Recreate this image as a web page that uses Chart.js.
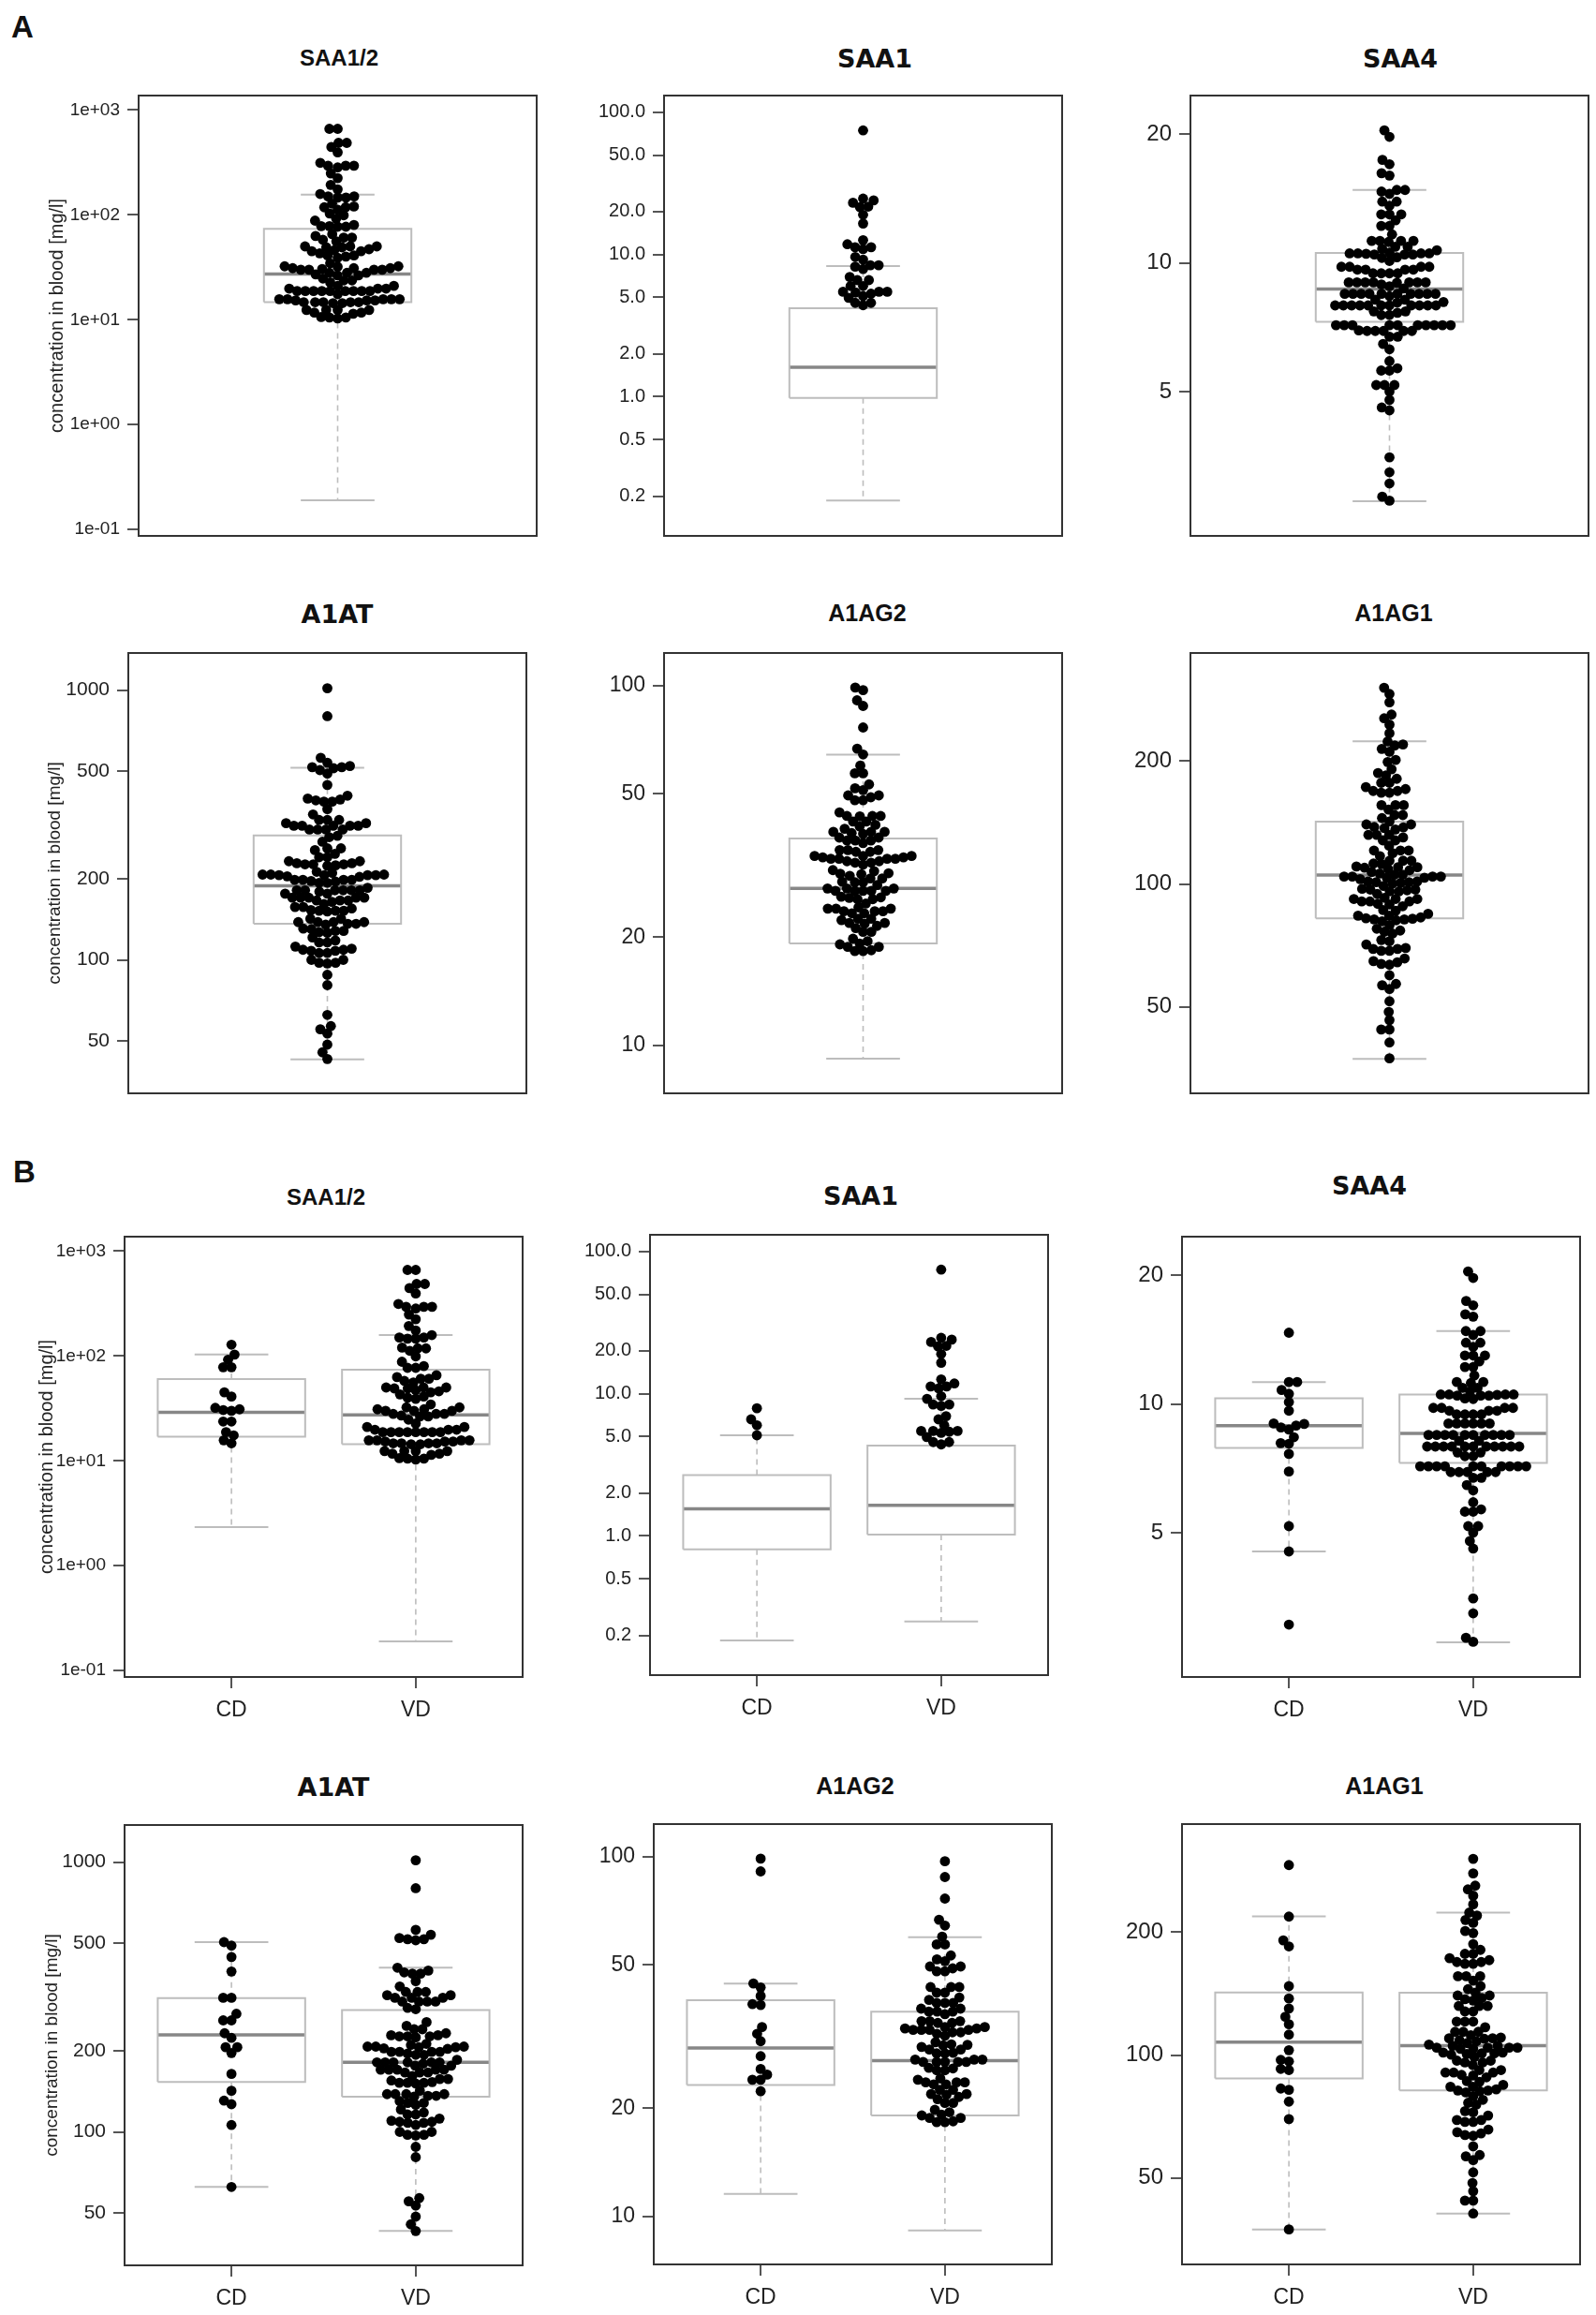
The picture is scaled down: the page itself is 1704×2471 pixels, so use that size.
<!DOCTYPE html>
<html>
<head>
<meta charset="utf-8">
<title>Acute phase proteins in blood</title>
<script src="https://cdn.jsdelivr.net/npm/chart.js@4.4.0/dist/chart.umd.min.js"></script>
<style>
  html, body { margin: 0; padding: 0; background: #fff; }
  body { position: relative; width: 1704px; height: 2471px; overflow: hidden;
         font-family: "Liberation Sans", Arial, sans-serif; color: #111; }
  .panel { position: absolute; }
  .letter { position: absolute; font-weight: bold; font-size: 33px; line-height: 33px; }
  .title { position: absolute; font-weight: bold; line-height: 1; white-space: nowrap;
           transform: translate(-50%, -50%); }
</style>
</head>
<body>
<div class="letter" style="left:12px; top:12px;">A</div>
<div class="letter" style="left:14px; top:1234px;">B</div>
<script>
// values, concentration in blood [mg/l]
const groupNames = ['CD', 'VD'];

// SAA1/2
const saa12CD = [128, 103, 92, 78, 78, 45, 41, 30.5, 30, 31, 32, 23.7, 23.7, 18.8, 17.5, 15.7, 14.7];
const saa12VD = [660, 660, 485, 485, 443, 394, 294, 294, 283, 294, 313, 248, 224, 193, 175,
  150, 150, 146, 146, 158, 118, 118, 112, 120, 99, 88, 80, 77, 77,
  62.8, 57.8, 55.9, 60.7, 60.7, 65.4,
  49, 45, 47, 46, 50, 49, 50, 50,
  41, 39, 40, 43,
  32.3, 30, 30, 34.5, 30, 32.3, 31, 31,
  28, 26.5, 26.5, 28, 27, 28,
  22.7, 24.7,
  21, 18.8, 18.8, 18.8, 19.8, 18.8, 19.8, 18.8, 18.8, 21, 18.8, 18.8, 19.8,
  15.3, 14.7, 14.7, 15.7, 15.3, 15.7, 14.7, 14.7, 15.7, 14.4, 14.4, 15.3, 15.7,
  12.4, 11.7, 12.4, 12.4, 12.4, 11.4, 11.7,
  10.5, 10.3, 10.5, 10.6];
// box stats: lower whisker, Q1, median, Q3, upper whisker
const saa12BoxAll = [0.19, 14.7, 27.3, 73.5, 156];
const saa12BoxCD = [2.33, 17, 29, 60.3, 103];
const saa12BoxVD = [0.19, 14.4, 27.4, 74, 158];
const saa12Ticks = [0.1, 1, 10, 100, 1000];
const saa12Labels = ['1e-01', '1e+00', '1e+01', '1e+02', '1e+03'];
const saa12Limits = [0.087, 1370];

// SAA1
const saa1CD = [7.9, 6.6, 6.0, 5.1];
const saa1VD = [74.5, 24.7, 24, 23.1, 21.7, 21.5, 19, 16.5, 12.6, 11.25, 10.9, 11.25, 11.8,
  9.6, 9.2, 8.4, 8.2, 8.4, 6.95, 6.6, 6.0, 5.47, 5.47, 5.3, 5.4, 5.47, 4.96, 4.57, 4.4, 4.57];
const saa1BoxAll = [0.186, 0.98, 1.61, 4.19, 8.3];
const saa1BoxCD = [0.184, 0.805, 1.55, 2.68, 5.1];
const saa1BoxVD = [0.25, 1.02, 1.64, 4.32, 9.2];
const saa1Ticks = [0.2, 0.5, 1, 2, 5, 10, 20, 50, 100];
const saa1Labels = ['0.2', '0.5', '1.0', '2.0', '5.0', '10.0', '20.0', '50.0', '100.0'];
const saa1Limits = [0.105, 131];

// SAA4
const saa4CD = [14.67, 11.25, 11.25, 10.78, 10.56, 10.1, 9.64, 8.98, 8.9, 8.71, 8.81, 9.0,
  8.36, 8.07, 8.1, 7.64, 6.95, 5.18, 4.52, 3.05];
const saa4VD = [20.4, 19.7, 17.4, 17.0, 16.2, 16.0, 14.8, 14.5, 14.8, 13.9, 13.6, 13.9,
  12.98, 12.98, 12.98, 12.57, 12.2, 12.2, 11.65, 11.19, 11.25, 11.25, 10.9, 10.7, 10.9,
  10.52, 10.52, 10.52, 10.52, 10.46, 10.46, 10.46, 10.27, 10.5, 10.3,
  9.79, 9.79, 9.79, 9.79, 9.64, 9.64, 9.64,
  9.45, 9.45, 9.45, 9.45,
  9.0, 9.0, 9.0, 9.0, 9.0, 9.0,
  8.46, 8.46, 8.46, 8.46, 8.46, 8.46, 8.46, 8.46, 8.46, 8.46,
  8.2, 8.2,
  7.95, 7.95, 7.95, 7.95, 7.95, 7.95, 7.95, 7.95, 7.95, 7.95, 7.95,
  7.7, 7.7, 7.55, 7.55,
  7.15, 7.15, 7.15, 7.15, 7.15, 7.15, 7.15, 7.15, 7.15, 7.15,
  6.93, 6.93, 6.93, 6.93, 6.93, 6.72, 6.72, 6.46, 6.28,
  5.89, 5.67, 5.6, 5.6, 5.18, 5.18, 5.0, 4.78, 4.59, 3.51, 3.24, 2.84, 2.78];
const saa4BoxAll = [2.77, 7.28, 8.68, 10.55, 14.8];
const saa4BoxCD = [4.52, 7.89, 8.89, 10.31, 11.25];
const saa4BoxVD = [2.77, 7.28, 8.53, 10.52, 14.8];
const saa4Ticks = [5, 10, 20];
const saa4Labels = ['5', '10', '20'];
const saa4Limits = [2.30, 24.6];

// A1AT
const a1atCD = [490, 505, 445, 393, 314, 314, 274, 259, 259, 232, 223, 206, 206, 196, 164, 142,
  126.6, 130.5, 106, 62.5];
const a1atVD = [1016, 800, 561, 523, 518, 513, 518, 538, 396, 386, 386, 390, 406, 362, 346,
  321, 321, 314, 314, 314, 330, 330, 330,
  304, 304, 304, 285, 288, 304,
  255, 240, 240, 247,
  228, 226, 224, 226, 226, 228, 232,
  207, 207, 210, 212, 206, 206, 204, 203, 207,
  198, 198, 193, 193, 198, 198, 195,
  181, 185, 181, 181, 181, 179, 181, 181, 176,
  170, 170, 166, 166, 166, 170, 170, 170, 176,
  161, 155, 153, 152, 151, 152, 152, 157, 157,
  138, 138, 136, 135, 142, 136, 138, 138,
  130, 128, 128, 126,
  121, 118, 116, 112, 116,
  109, 108, 108, 106, 109, 110,
  100, 97.5, 97, 97.5, 100,
  88, 80.6, 56.8, 55.3, 53.3, 48.5, 45.4, 42.9];
const a1atBoxAll = [42.8, 136, 188, 289, 515];
const a1atBoxCD = [62.5, 153, 229, 313, 505];
const a1atBoxVD = [42.9, 135, 181, 283, 406];
const a1atTicks = [50, 100, 200, 500, 1000];
const a1atLabels = ['50', '100', '200', '500', '1000'];
const a1atLimits = [32, 1372];

// A1AG2
const a1ag2CD = [98.6, 90.9, 44.4, 43.3, 41, 38.7, 38.9, 33.6, 32.2, 30.7, 27.9, 25.7, 24.8, 24.0, 24.0, 22.3];
const a1ag2VD = [97, 87.7, 76.4, 66.7, 64.3, 59.9, 57, 57, 53.1, 51.2, 51.8,
  49.5, 48.9, 48, 48, 49.5,
  43.4, 43.4, 41.9, 41.9, 43.4,
  40.6, 39.2, 39.2, 39.2, 40,
  37.8, 37.8, 37.1, 37.1, 37.1, 36.5,
  34.9, 34.5, 34.5, 34.9, 34.9,
  33.3, 33, 33, 33.6, 33, 32.5, 33, 33.3, 33.6,
  32.2, 31.8, 32.5,
  30.5, 29.6, 29.9, 30, 30.1,
  29.1, 28.4, 28.4, 28.5, 29.1,
  27.3, 26.9, 26.9, 27.3, 27.3, 26.9, 26.9, 26.9,
  25.8, 25.5, 25.5, 25.9,
  24.2, 23.6, 23.3, 24, 23.3, 23.6, 23.6,
  22.5, 22.5,
  21.8, 21.5, 20.7, 21.2, 21.9, 20.7, 21.9,
  19.5, 19.8,
  19.2, 18.4, 18.3, 18.8, 19.1, 18.3, 18.8];
const a1ag2BoxAll = [9.2, 19.2, 27.3, 37.6, 64.2];
const a1ag2BoxCD = [11.56, 23.2, 29.4, 39.9, 44.4];
const a1ag2BoxVD = [9.16, 19.1, 27.1, 37.1, 59.7];
const a1ag2Ticks = [10, 20, 50, 100];
const a1ag2Labels = ['10', '20', '50', '100'];
const a1ag2Limits = [7.37, 123];

// A1AG1
const a1ag1CD = [292, 218.4, 191, 184.6, 147.5, 137.6, 130, 124.1, 119, 112.2, 102.8,
  97.3, 96.5, 92.5, 91.9, 82.2, 82.8, 76.9, 69.7, 37.4];
const a1ag1VD = [302.5, 278.7, 260, 254.6, 245.7, 234, 223.4, 219.7, 214.3, 210.8, 201.3, 199,
  187, 181, 177, 177, 172.7, 169, 169, 167.3, 167.3, 170.8,
  156, 156, 152.2, 156, 145, 147.5, 142.2,
  137.9, 139.9, 137, 139.9, 136,
  131.9, 131.9, 127.9, 127.9, 131.9,
  120.8, 120.8, 117, 120.8, 114, 114, 114,
  111.8, 109.9, 107, 108.7, 108.1, 109.9, 109.6, 110.4,
  106.1, 104.3, 103.6, 103.6, 104.3, 105.4, 104.3, 104.3, 105.4,
  101.4, 101, 101.4, 101, 100.6, 100.2,
  96.9, 95.9, 95.9, 94.5, 96.9, 98.9,
  91.9, 90.6, 90.6, 89.4, 89.1, 90.6, 91.9,
  88.2, 86.3, 86,
  83.6, 81.9, 81, 82.4, 84.5, 81.9, 83.6,
  81.5, 79.3,
  77.7, 76.4, 75.6,
  72.9, 72.4, 71.1,
  69.3, 68.6, 69.3, 68.6,
  65.7, 64.3, 63.4, 63.7, 64.7,
  59.75, 56.9, 55.3, 56.5, 51.6, 48.6, 46.4, 44, 44, 40.9];
const a1ag1BoxAll = [37.3, 82.4, 105.2, 142.1, 223.7];
const a1ag1BoxCD = [37.4, 87.7, 107.6, 142.3, 218.8];
const a1ag1BoxVD = [40.9, 81.9, 105.4, 142.2, 223.2];
const a1ag1Ticks = [50, 100, 200];
const a1ag1Labels = ['50', '100', '200'];
const a1ag1Limits = [30.7, 368];

const proteins = [
  { name: 'SAA1/2', cd: saa12CD, vd: saa12VD, boxAll: saa12BoxAll, boxCD: saa12BoxCD, boxVD: saa12BoxVD,
    ticks: saa12Ticks, labels: saa12Labels, limits: saa12Limits },
  { name: 'SAA1', cd: saa1CD, vd: saa1VD, boxAll: saa1BoxAll, boxCD: saa1BoxCD, boxVD: saa1BoxVD,
    ticks: saa1Ticks, labels: saa1Labels, limits: saa1Limits },
  { name: 'SAA4', cd: saa4CD, vd: saa4VD, boxAll: saa4BoxAll, boxCD: saa4BoxCD, boxVD: saa4BoxVD,
    ticks: saa4Ticks, labels: saa4Labels, limits: saa4Limits },
  { name: 'A1AT', cd: a1atCD, vd: a1atVD, boxAll: a1atBoxAll, boxCD: a1atBoxCD, boxVD: a1atBoxVD,
    ticks: a1atTicks, labels: a1atLabels, limits: a1atLimits },
  { name: 'A1AG2', cd: a1ag2CD, vd: a1ag2VD, boxAll: a1ag2BoxAll, boxCD: a1ag2BoxCD, boxVD: a1ag2BoxVD,
    ticks: a1ag2Ticks, labels: a1ag2Labels, limits: a1ag2Limits },
  { name: 'A1AG1', cd: a1ag1CD, vd: a1ag1VD, boxAll: a1ag1BoxAll, boxCD: a1ag1BoxCD, boxVD: a1ag1BoxVD,
    ticks: a1ag1Ticks, labels: a1ag1Labels, limits: a1ag1Limits }
];

// look of each protein's panel: title font, title size, tick label size
const titleFont = ['Liberation Sans', 'DejaVu Sans', 'DejaVu Sans', 'DejaVu Sans', 'Liberation Sans', 'Liberation Sans'];
const titleSize = [24, 27, 27, 27, 25, 25];
const tickSize = [19, 20, 24, 21, 23, 24];

// page layout: plot area corner, title centre, y-axis title centre (first column only)
const PLOT_W = 425, PLOT_H = 470;
const panels = [
  { part: 'A', p: 0, col: 0, left: 148, top: 102, tx: 362, ty: 62, yt: 61, ytSize: 20 },
  { part: 'A', p: 1, col: 1, left: 709, top: 102, tx: 934, ty: 62 },
  { part: 'A', p: 2, col: 2, left: 1271, top: 102, tx: 1495, ty: 62 },
  { part: 'A', p: 3, col: 0, left: 137, top: 697, tx: 360, ty: 655, yt: 59, ytSize: 19 },
  { part: 'A', p: 4, col: 1, left: 709, top: 697, tx: 926, ty: 654 },
  { part: 'A', p: 5, col: 2, left: 1271, top: 697, tx: 1488, ty: 654 },
  { part: 'B', p: 0, col: 0, left: 133, top: 1320, tx: 348, ty: 1278, yt: 50, ytSize: 20 },
  { part: 'B', p: 1, col: 1, left: 694, top: 1318, tx: 919, ty: 1276 },
  { part: 'B', p: 2, col: 2, left: 1262, top: 1320, tx: 1462, ty: 1265 },
  { part: 'B', p: 3, col: 0, left: 133, top: 1948, tx: 356, ty: 1907, yt: 56, ytSize: 19 },
  { part: 'B', p: 4, col: 1, left: 698, top: 1947, tx: 913, ty: 1906 },
  { part: 'B', p: 5, col: 2, left: 1262, top: 1947, tx: 1478, ty: 1906 }
];

const DOT_R = 5.4, DOT_GAP = 8.8;
const BOX_GREY = '#bdbdbd', MEDIAN_GREY = '#878787', AXIS_GREY = '#555', FRAME = '#333';

function segment(data, color, width, dash) {
  return { data: data, showLine: true, borderColor: color, borderWidth: width, borderDash: dash || [],
           pointRadius: 0, pointHoverRadius: 0, fill: false, order: 2 };
}

// box, median, dashed whiskers and caps for one group
function boxDatasets(s, cx, half, cap) {
  const lo = s[0], q1 = s[1], med = s[2], q3 = s[3], hi = s[4];
  return [
    segment([{x: cx - half, y: q1}, {x: cx + half, y: q1}, {x: cx + half, y: q3},
             {x: cx - half, y: q3}, {x: cx - half, y: q1}], BOX_GREY, 2),
    segment([{x: cx - half, y: med}, {x: cx + half, y: med}], MEDIAN_GREY, 3.5),
    segment([{x: cx, y: q3}, {x: cx, y: hi}], BOX_GREY, 1.6, [6, 5]),
    segment([{x: cx, y: q1}, {x: cx, y: lo}], BOX_GREY, 1.6, [6, 5]),
    segment([{x: cx - cap, y: hi}, {x: cx + cap, y: hi}], BOX_GREY, 2),
    segment([{x: cx - cap, y: lo}, {x: cx + cap, y: lo}], BOX_GREY, 2)
  ];
}

const framePlugin = {
  id: 'frame',
  afterDatasetsDraw(chart) {
    const a = chart.chartArea, ctx = chart.ctx;
    ctx.save();
    ctx.strokeStyle = FRAME;
    ctx.lineWidth = 2;
    ctx.strokeRect(a.left, a.top, a.right - a.left, a.bottom - a.top);
    ctx.restore();
  }
};

// beeswarm: spread points sideways (in pixels) so dots do not overlap
function placeSwarm(chart) {
  const xs = chart.scales.x, ys = chart.scales.y;
  const pts = chart.data.datasets[0].data;
  [1, 2].forEach(g => {
    const cx = xs.getPixelForValue(g);
    const placed = [];
    pts.filter(p => p.g === g)
      .map(p => ({ p: p, py: ys.getPixelForValue(p.y) }))
      .sort((a, b) => b.py - a.py)
      .forEach(o => {
        const cands = [0];
        placed.forEach(q => {
          const dy = Math.abs(o.py - q.py);
          if (dy < DOT_GAP) {
            const dx = Math.sqrt(DOT_GAP * DOT_GAP - dy * dy);
            cands.push(q.dx + dx, q.dx - dx);
          }
        });
        cands.sort((a, b) => Math.abs(a) - Math.abs(b) || a - b);
        const dx = cands.find(c => placed.every(q =>
          (c - q.dx) * (c - q.dx) + (o.py - q.py) * (o.py - q.py) >= DOT_GAP * DOT_GAP - 0.01));
        placed.push({ dx: dx, py: o.py });
        o.p.x = xs.getValueForPixel(cx + dx);
      });
  });
  chart.update('none');
}

panels.forEach(pn => {
  const pr = proteins[pn.p];
  const single = pn.part === 'A';
  const canvasLeft = pn.col === 0 ? 0 : pn.left - 125;
  const yw = pn.left - canvasLeft;
  const W = yw + PLOT_W + 12;
  const H = 12 + PLOT_H + (single ? 12 : 72);

  const cv = document.createElement('canvas');
  cv.className = 'panel';
  cv.width = W; cv.height = H;
  cv.style.left = canvasLeft + 'px';
  cv.style.top = (pn.top - 12) + 'px';
  cv.style.width = W + 'px';
  cv.style.height = H + 'px';
  document.body.appendChild(cv);

  const t = document.createElement('div');
  t.className = 'title';
  t.textContent = pr.name;
  t.style.left = pn.tx + 'px';
  t.style.top = pn.ty + 'px';
  t.style.fontFamily = '"' + titleFont[pn.p] + '", sans-serif';
  t.style.fontSize = titleSize[pn.p] + 'px';
  document.body.appendChild(t);

  let points;
  if (single) {
    points = pr.cd.concat(pr.vd).map(v => ({ x: 1, y: v, g: 1 }));
  } else {
    points = pr.cd.map(v => ({ x: 1, y: v, g: 1 })).concat(pr.vd.map(v => ({ x: 2, y: v, g: 2 })));
  }
  const datasets = [{ data: points, pointRadius: DOT_R, pointHoverRadius: DOT_R,
                      pointBackgroundColor: '#000', pointBorderWidth: 0, showLine: false, order: 0 }];
  if (single) {
    datasets.push(...boxDatasets(pr.boxAll, 1, 0.2, 0.1));
  } else {
    datasets.push(...boxDatasets(pr.boxCD, 1, 0.4, 0.2));
    datasets.push(...boxDatasets(pr.boxVD, 2, 0.4, 0.2));
  }

  const ytSize = pn.ytSize || 20;
  const chart = new Chart(cv, {
    type: 'scatter',
    data: { datasets: datasets },
    options: {
      responsive: false,
      animation: false,
      events: [],
      layout: { padding: { top: 12, right: 12, bottom: single ? 12 : 0, left: 0 } },
      plugins: { legend: { display: false }, tooltip: { enabled: false } },
      scales: {
        x: {
          type: 'linear',
          min: single ? 0.46 : 0.42,
          max: single ? 1.54 : 2.58,
          display: !single,
          afterBuildTicks: s => { s.ticks = [{ value: 1 }, { value: 2 }]; },
          afterFit: s => { if (!single) s.height = 72; s.paddingLeft = 0; s.paddingRight = 0; },
          ticks: { autoSkip: false, maxRotation: 0, padding: 10, color: '#222',
                   font: { family: 'Liberation Sans', size: 23 },
                   callback: v => groupNames[v - 1] || '' },
          grid: { drawOnChartArea: false, drawTicks: true, tickLength: 12, color: AXIS_GREY, lineWidth: 2 },
          border: { display: false }
        },
        y: {
          type: 'logarithmic',
          min: pr.limits[0],
          max: pr.limits[1],
          afterBuildTicks: s => { s.ticks = pr.ticks.map(v => ({ value: v })); },
          afterFit: s => { s.width = yw; s.paddingTop = 0; s.paddingBottom = 0; },
          ticks: { autoSkip: false, padding: 8, color: '#222',
                   font: { family: 'Liberation Sans', size: tickSize[pn.p] },
                   callback: v => { const i = pr.ticks.indexOf(v); return i < 0 ? '' : pr.labels[i]; } },
          grid: { drawOnChartArea: false, drawTicks: true, tickLength: 12, color: AXIS_GREY, lineWidth: 2 },
          border: { display: false },
          title: { display: pn.col === 0, text: 'concentration in blood [mg/l]', color: '#222',
                   font: { family: 'Liberation Sans', size: ytSize },
                   padding: { top: (pn.yt || 0) - ytSize * 0.6, bottom: 0 } }
        }
      }
    },
    plugins: [framePlugin]
  });
  placeSwarm(chart);
});
</script>
</body>
</html>
